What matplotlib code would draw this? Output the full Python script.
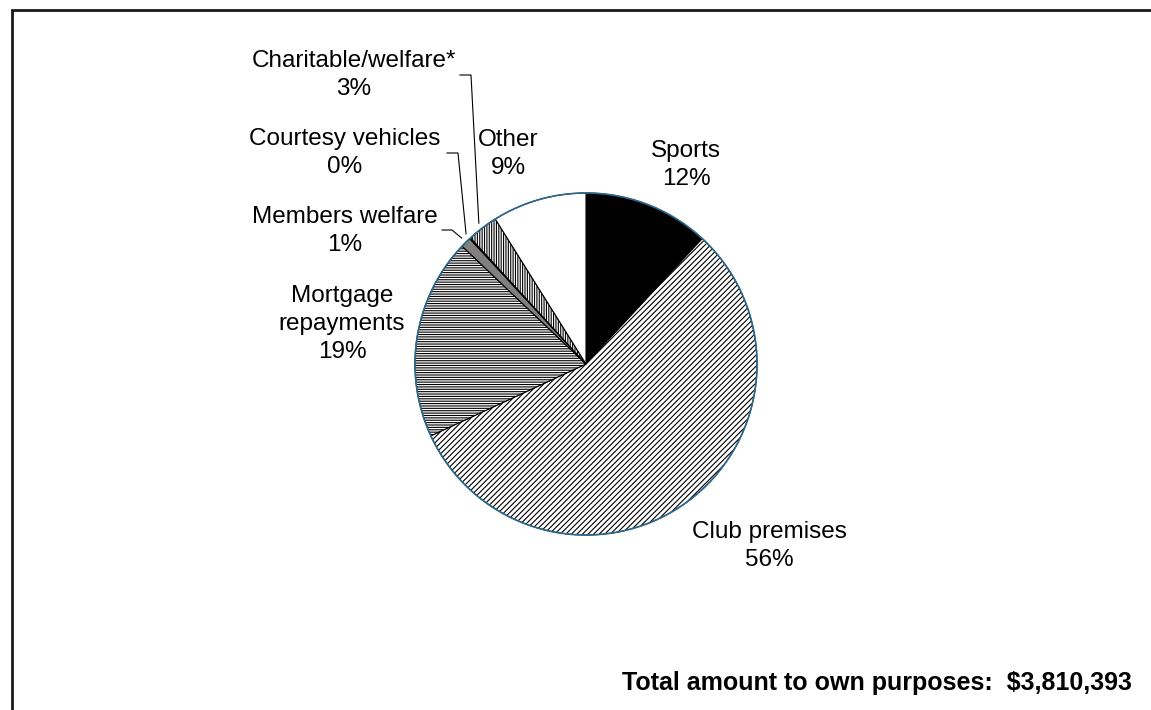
import numpy as np
import matplotlib
matplotlib.use('Agg')
import matplotlib.pyplot as plt
from matplotlib.patches import Circle, Rectangle

plt.rcParams['font.family'] = ['Liberation Sans', 'DejaVu Sans']
plt.rcParams['hatch.color'] = 'black'
plt.rcParams['hatch.linewidth'] = 0.8

# data (percent of total amount to own purposes)
categories = ['Sports', 'Club premises', 'Mortgage\nrepayments', 'Members welfare',
              'Courtesy vehicles', 'Charitable/welfare*', 'Other']
shares = [11.9, 56.2, 19.0, 1.0, 0.1, 2.9, 8.9]
total_text = 'Total amount to own purposes:  $3,810,393'

fills = ['black', 'white', 'white', '#808080', 'white', 'white', 'white']
hatches = [None, '//////', '-------', None, None, '|||||||', None]

W, H = 1151, 710
fig = plt.figure(figsize=(W / 100, H / 100), dpi=100)
ax = fig.add_axes([0, 0, 1, 1])

cx, cy, r = 586, H - 364, 171
wedges, _ = ax.pie(shares, center=(cx, cy), radius=r, startangle=90, counterclock=False,
                   colors=fills, wedgeprops=dict(edgecolor='black', linewidth=0.8))
for w, h in zip(wedges, hatches):
    if h:
        w.set_hatch(h)
ax.add_patch(Circle((cx, cy), r, fill=False, edgecolor='#2f6a8e', linewidth=1.2, zorder=5))

ax.set_xlim(0, W)
ax.set_ylim(0, H)
ax.axis('off')

# label positions (pixels from top-left) and leader lines
label_pos = [(686, 165), (769, 546), (342, 324), (345, 231), (345, 153), (354, 75), (508, 154)]
leader = {3: (442, 230, 452), 4: (447, 153, 458), 5: (460, 75, 471)}

for i, (lab, val) in enumerate(zip(categories, shares)):
    x, y = label_pos[i]
    ax.text(x, H - y, f'{lab}\n{val:.0f}%', ha='center', va='center', fontsize=17.5,
            linespacing=1.38)
    if i in leader:
        x0, y0, x1 = leader[i]
        w = wedges[i]
        mid = np.deg2rad((w.theta1 + w.theta2) / 2)
        ex = cx + 1.035 * r * np.cos(mid)
        ey = cy + 1.035 * r * np.sin(mid)
        ax.plot([x0, x1, ex], [H - y0, H - y0, ey], color='black', linewidth=0.8)

ax.text(1132, H - 690, total_text, ha='right', va='baseline', fontsize=18, fontweight='bold')

fig.patches.append(Rectangle((12 / W, -0.1), 1.2, 1.1 - 9.5 / H, transform=fig.transFigure,
                             fill=False, edgecolor='#1a1a1a', linewidth=2))

fig.savefig('out.png', dpi=100)
